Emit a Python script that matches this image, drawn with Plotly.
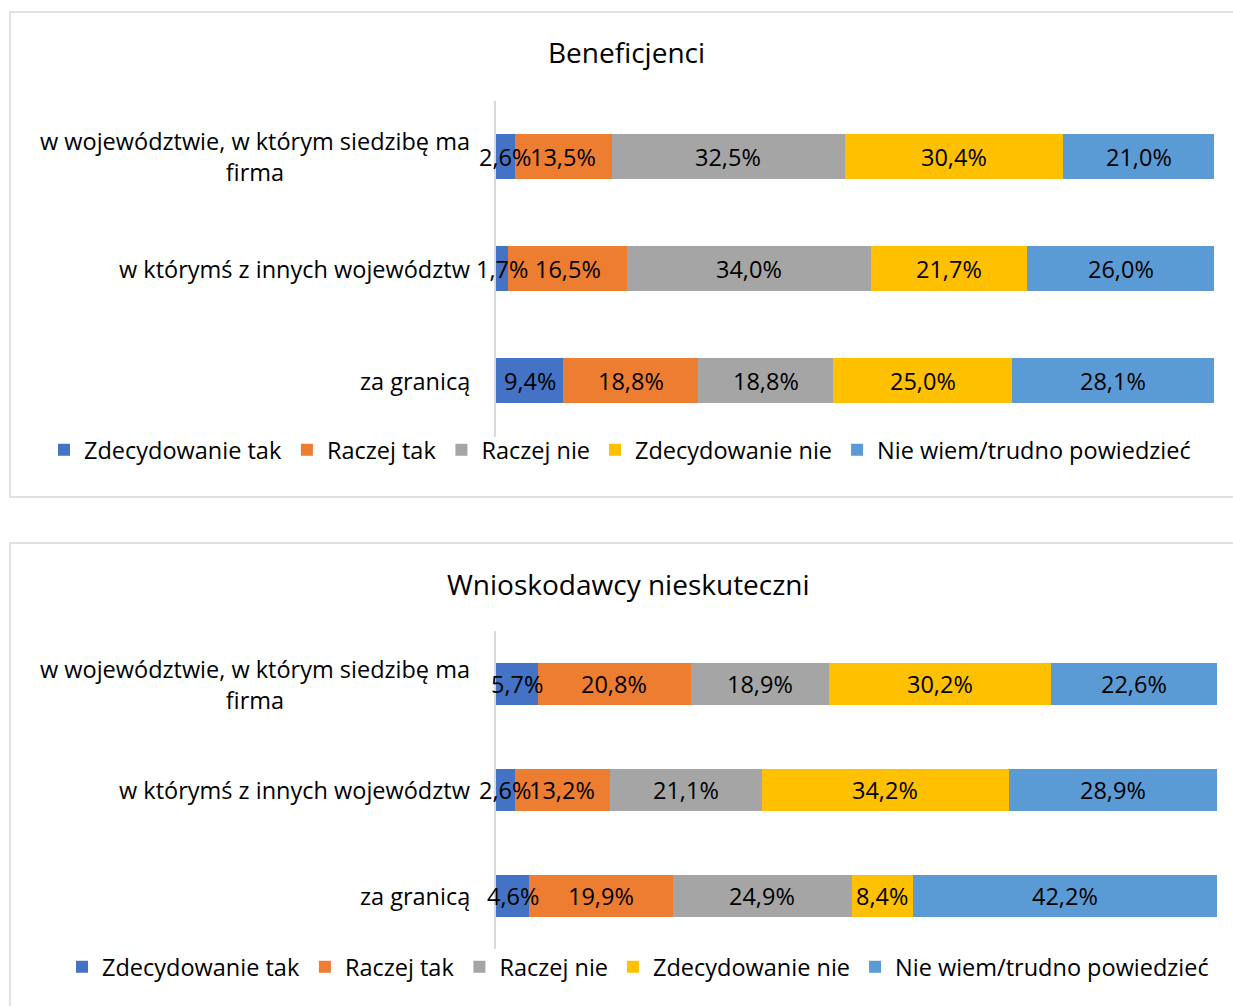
import plotly.graph_objects as go

# ---------------- data ----------------
categories = ["w województwie, w którym siedzibę ma firma",
              "w którymś z innych województw",
              "za granicą"]
category_labels = ["w województwie, w którym siedzibę ma<br>firma",
                   "w którymś z innych województw",
                   "za granicą"]
series_names = ["Zdecydowanie tak", "Raczej tak", "Raczej nie",
                "Zdecydowanie nie", "Nie wiem/trudno powiedzieć"]
series_colors = ["#4472C4", "#ED7D31", "#A5A5A5", "#FFC000", "#5B9BD5"]

# Beneficjenci
benef_zdecydowanie_tak = [2.6, 1.7, 9.4]
benef_raczej_tak = [13.5, 16.5, 18.8]
benef_raczej_nie = [32.5, 34.0, 18.8]
benef_zdecydowanie_nie = [30.4, 21.7, 25.0]
benef_nie_wiem = [21.0, 26.0, 28.1]

# Wnioskodawcy nieskuteczni
wniosk_zdecydowanie_tak = [5.7, 2.6, 4.6]
wniosk_raczej_tak = [20.8, 13.2, 19.9]
wniosk_raczej_nie = [18.9, 21.1, 24.9]
wniosk_zdecydowanie_nie = [30.2, 34.2, 8.4]
wniosk_nie_wiem = [22.6, 28.9, 42.2]

panel_titles = ["Beneficjenci", "Wnioskodawcy nieskuteczni"]

benef_series = [benef_zdecydowanie_tak, benef_raczej_tak, benef_raczej_nie,
                benef_zdecydowanie_nie, benef_nie_wiem]
wniosk_series = [wniosk_zdecydowanie_tak, wniosk_raczej_tak, wniosk_raczej_nie,
                 wniosk_zdecydowanie_nie, wniosk_nie_wiem]

# ---------------- figure ----------------
W, H = 1233, 1006
FONT = "Open Sans"
LABEL_SIZE = 23.5
TITLE_SIZE = 28


def px_x(p):
    return p / W


def px_y(p):
    return 1 - p / H


def fmt(v):
    return f"{v:.1f}".replace(".", ",") + "%"


fig = go.Figure()

panels = [
    dict(series=benef_series, xaxis="x", yaxis="y", legend="legend"),
    dict(series=wniosk_series, xaxis="x2", yaxis="y2", legend="legend2"),
]

for p in panels:
    for name, vals, col in zip(series_names, p["series"], series_colors):
        fig.add_trace(go.Bar(
            y=categories, x=vals, name=name, orientation="h",
            marker=dict(color=col, line=dict(width=0)),
            textposition="none",
            xaxis=p["xaxis"], yaxis=p["yaxis"], legend=p["legend"],
            hoverinfo="skip",
        ))

    # data labels, centred on each (100%-normalised) segment, drawn on top
    totals = [sum(s[i] for s in p["series"]) for i in range(len(categories))]
    for i, cat in enumerate(categories):
        cum = 0.0
        for s in p["series"]:
            v = s[i]
            centre = (cum + v / 2) / totals[i] * 100
            cum += v
            fig.add_annotation(text=fmt(v), xref=p["xaxis"], yref=p["yaxis"],
                               x=centre, y=cat, showarrow=False,
                               xanchor="center", yanchor="middle",
                               font=dict(family=FONT, size=LABEL_SIZE,
                                         color="#000000"))

axis_common_x = dict(range=[0, 100], visible=False, fixedrange=True)
axis_common_y = dict(categoryorder="array", categoryarray=categories,
                     autorange="reversed", showticklabels=False,
                     showline=True, linecolor="#D9D9D9", linewidth=2,
                     showgrid=False, zeroline=False, ticks="")

legend_common = dict(orientation="h", yanchor="middle", xanchor="left",
                     traceorder="normal",
                     font=dict(family=FONT, size=LABEL_SIZE, color="#000000"),
                     bgcolor="rgba(0,0,0,0)", itemclick=False,
                     itemdoubleclick=False)

fig.update_layout(
    width=W, height=H,
    margin=dict(l=0, r=0, t=0, b=0),
    paper_bgcolor="white", plot_bgcolor="white",
    barmode="stack", barnorm="percent", bargap=0.6,
    font=dict(family=FONT, size=LABEL_SIZE, color="#000000"),
    xaxis=dict(domain=[px_x(496), px_x(1214)], anchor="y", **axis_common_x),
    yaxis=dict(domain=[px_y(436.5), px_y(100.5)], anchor="x", **axis_common_y),
    xaxis2=dict(domain=[px_x(496), px_x(1217)], anchor="y2", **axis_common_x),
    yaxis2=dict(domain=[px_y(949), px_y(631)], anchor="x2", **axis_common_y),
    legend=dict(x=px_x(44), y=px_y(450), **legend_common),
    legend2=dict(x=px_x(62), y=px_y(967), **legend_common),
    showlegend=True,
)

# panel frames
fig.add_shape(type="rect", xref="paper", yref="paper",
              x0=px_x(10), x1=px_x(1245), y0=px_y(497), y1=px_y(12),
              line=dict(color="#D9D9D9", width=1.5), fillcolor="rgba(0,0,0,0)",
              layer="below")
fig.add_shape(type="rect", xref="paper", yref="paper",
              x0=px_x(10), x1=px_x(1245), y0=px_y(1020), y1=px_y(543),
              line=dict(color="#D9D9D9", width=1.5), fillcolor="rgba(0,0,0,0)",
              layer="below")

# titles
fig.add_annotation(text=panel_titles[0], xref="paper", yref="paper",
                   x=px_x(626), y=px_y(52), showarrow=False,
                   xanchor="center", yanchor="middle",
                   font=dict(family=FONT, size=TITLE_SIZE, color="#000000"))
fig.add_annotation(text=panel_titles[1], xref="paper", yref="paper",
                   x=px_x(628), y=px_y(584), showarrow=False,
                   xanchor="center", yanchor="middle",
                   font=dict(family=FONT, size=TITLE_SIZE, color="#000000"))

# category labels (centred multi-line text, right edge next to the axis)
for yref in ["y", "y2"]:
    for cat, lab in zip(categories, category_labels):
        fig.add_annotation(text=lab, xref="paper", yref=yref,
                           x=px_x(472), y=cat, showarrow=False,
                           xanchor="right", yanchor="middle", align="center",
                           font=dict(family=FONT, size=LABEL_SIZE,
                                     color="#000000"))

fig.write_html("out.html")
